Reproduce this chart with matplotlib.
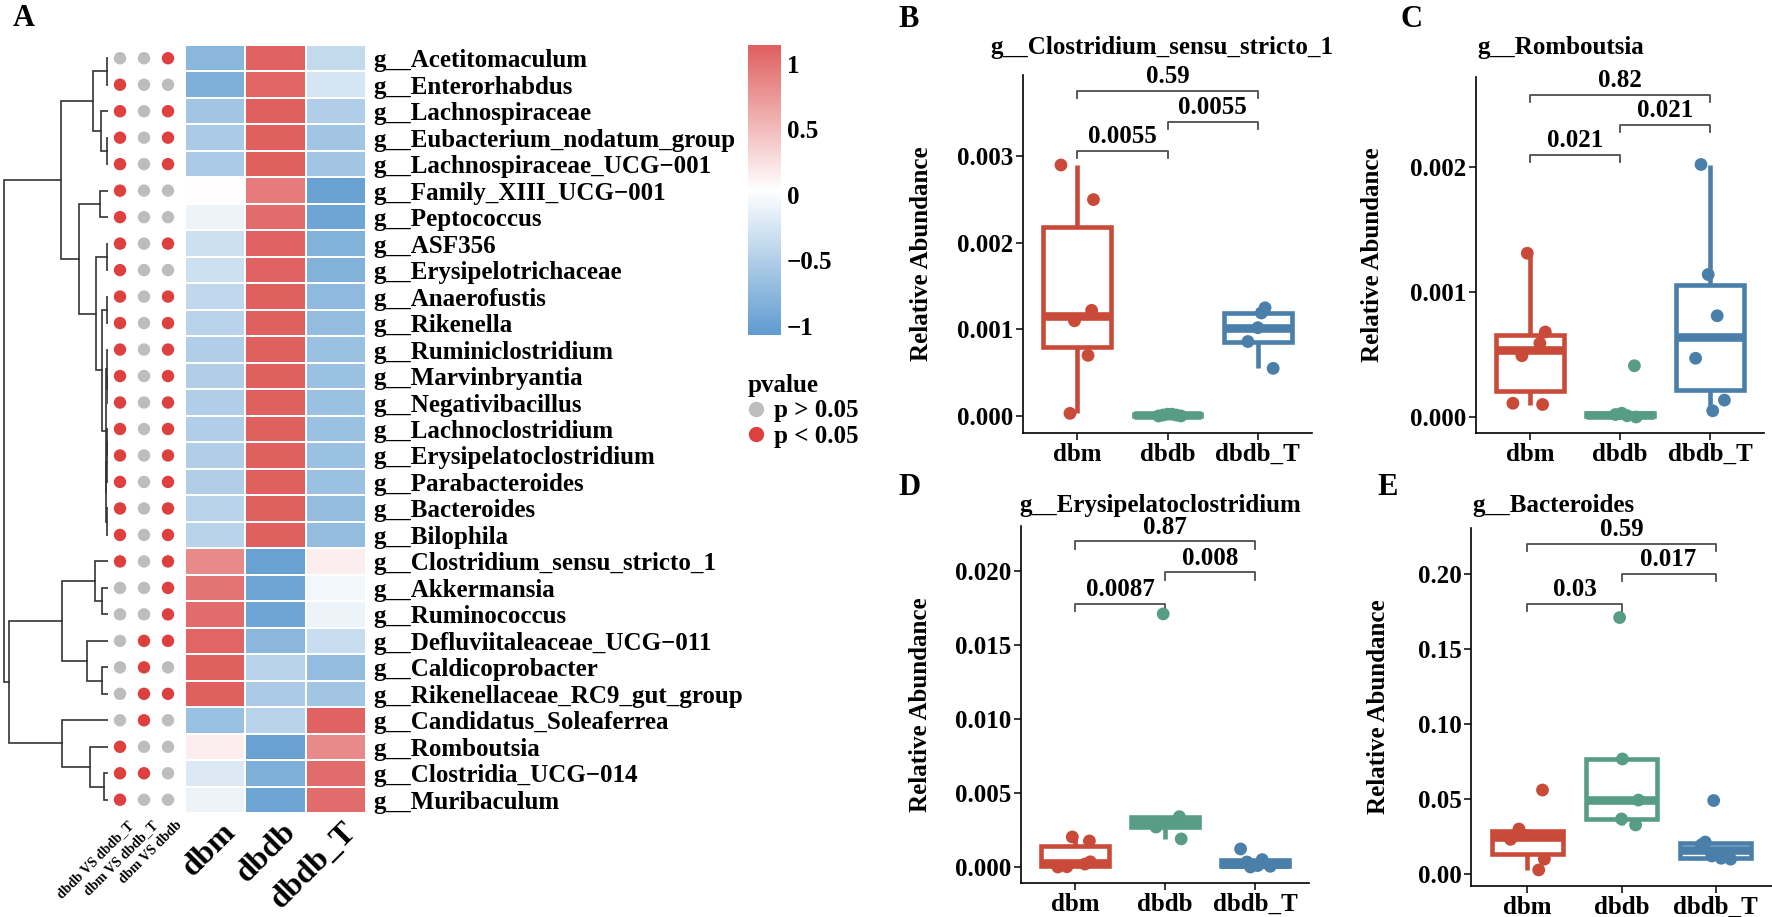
import numpy as np
import matplotlib
matplotlib.use("Agg")
import matplotlib.pyplot as plt
from matplotlib.colors import LinearSegmentedColormap, Normalize
from matplotlib.lines import Line2D

plt.rcParams['font.family'] = ['Liberation Serif', 'DejaVu Serif']
plt.rcParams['font.weight'] = 'bold'
plt.rcParams['axes.labelweight'] = 'bold'

W, H = 1772, 917

# %% data - heatmap (row z-scores)
genera = ["g__Acetitomaculum", "g__Enterorhabdus", "g__Lachnospiraceae",
          "g__Eubacterium_nodatum_group", "g__Lachnospiraceae_UCG\u2212001",
          "g__Family_XIII_UCG\u2212001", "g__Peptococcus", "g__ASF356",
          "g__Erysipelotrichaceae", "g__Anaerofustis", "g__Rikenella",
          "g__Ruminiclostridium", "g__Marvinbryantia", "g__Negativibacillus",
          "g__Lachnoclostridium", "g__Erysipelatoclostridium", "g__Parabacteroides",
          "g__Bacteroides", "g__Bilophila", "g__Clostridium_sensu_stricto_1",
          "g__Akkermansia", "g__Ruminococcus", "g__Defluviitaleaceae_UCG\u2212011",
          "g__Caldicoprobacter", "g__Rikenellaceae_RC9_gut_group",
          "g__Candidatus_Soleaferrea", "g__Romboutsia", "g__Clostridia_UCG\u2212014",
          "g__Muribaculum"]
groups = ["dbm", "dbdb", "dbdb_T"]
z_dbm = [-0.75, -0.85, -0.60, -0.55, -0.55, 0.05, -0.10, -0.30, -0.30, -0.40,
         -0.45, -0.50, -0.50, -0.50, -0.50, -0.50, -0.50, -0.45, -0.45,
         0.85, 1.00, 1.05, 1.10, 1.15, 1.15, -0.65, 0.15, -0.20, -0.10]
z_dbdb = [1.12, 1.10, 1.15, 1.15, 1.15, 0.95, 1.05, 1.12, 1.12, 1.14,
          1.15, 1.15, 1.15, 1.15, 1.15, 1.15, 1.15, 1.15, 1.15,
          -1.00, -0.95, -0.95, -0.75, -0.45, -0.55, -0.45, -1.00, -0.85, -0.95]
z_dbdbT = [-0.37, -0.25, -0.50, -0.60, -0.60, -1.00, -0.95, -0.82, -0.82, -0.74,
           -0.70, -0.65, -0.65, -0.65, -0.65, -0.65, -0.65, -0.70, -0.70,
           0.15, -0.05, -0.10, -0.35, -0.70, -0.60, 1.12, 0.85, 1.05, 1.05]

# significance (1 = p < 0.05)
comparisons = ["dbdb VS dbdb_T", "dbm VS dbdb_T", "dbm VS dbdb"]
sig_dbdb_T = [0, 1, 1, 1, 1, 1, 1, 1, 1, 1, 1, 1, 1, 1, 1, 1, 1, 1, 1, 1,
              0, 0, 0, 0, 0, 0, 1, 1, 1]
sig_dbm_T = [0, 0, 0, 0, 0, 0, 0, 0, 0, 0, 0, 0, 0, 0, 0, 0, 0, 0, 0, 0,
             0, 0, 1, 1, 1, 1, 0, 1, 0]
sig_dbm_dbdb = [1, 0, 1, 1, 1, 0, 0, 1, 0, 1, 1, 1, 1, 1, 1, 1, 1, 1, 1, 1,
                1, 1, 1, 0, 1, 0, 0, 0, 0]

# row dendrogram: (child a, child b, height); leaves 0..28, merges numbered from 29
merges = [(0, 1, 1.0), (3, 4, 0.3), (2, 30, 6.3), (29, 31, 15.0),
          (5, 6, 8.0), (7, 8, 0.4), (9, 10, 0.4), (12, 13, 0.2),
          (11, 36, 0.8), (14, 15, 0.3), (38, 16, 0.6), (17, 18, 0.5),
          (39, 40, 1.5), (37, 41, 2.2), (35, 42, 5.3), (34, 43, 11.3),
          (33, 44, 28.7), (32, 45, 47.0), (20, 21, 5.3), (19, 47, 12.7),
          (23, 24, 6.0), (22, 49, 21.0), (48, 50, 45.3), (27, 28, 3.7),
          (26, 52, 18.0), (25, 53, 46.0), (51, 54, 98.7), (46, 55, 104.3)]

# %% data - boxplots (values and jitter)
b_vals = [[0.0029, 0.0025, 0.00122, 0.0011, 0.0007, 0.00003],
          [0.00001, 0.00002, 0.0, 0.00001, 0.0, 0.00002],
          [0.00125, 0.00119, 0.00102, 0.00086, 0.00055]]
b_jit = [[-0.18, 0.18, 0.16, -0.03, 0.12, -0.08],
         [-0.05, 0.0, 0.15, 0.10, -0.10, 0.05],
         [0.08, 0.04, 0.0, -0.11, 0.17]]
c_vals = [[0.00131, 0.00068, 0.00059, 0.00049, 0.00011, 0.0001],
          [0.00003, 0.0, 0.00002, 0.00041, 0.00001],
          [0.00202, 0.00114, 0.00081, 0.00047, 0.000135, 0.00005]]
c_jit = [[-0.03, 0.17, 0.11, -0.09, -0.19, 0.14],
         [0.02, 0.18, -0.05, 0.16, 0.08],
         [-0.10, -0.02, 0.08, -0.16, 0.16, 0.03]]
d_vals = [[0.00203, 0.00176, 0.00035, 0.0002, 0.00002, 0.0],
          [0.0171, 0.0034, 0.0030, 0.0027, 0.0019],
          [0.00122, 0.0005, 0.00034, 0.0001, 0.00005, 0.0]]
d_jit = [[-0.03, 0.16, 0.17, 0.11, -0.09, -0.19],
         [-0.02, 0.16, 0.01, -0.10, 0.18],
         [-0.16, 0.08, -0.09, 0.03, 0.17, -0.05]]
e_vals = [[0.056, 0.030, 0.026, 0.0231, 0.0099, 0.0027],
          [0.171, 0.0767, 0.0493, 0.0367, 0.0327],
          [0.049, 0.0213, 0.0195, 0.012, 0.0105, 0.0099]]
e_jit = [[0.16, -0.09, -0.05, -0.18, 0.18, 0.12],
         [-0.02, 0.01, 0.18, 0.0, 0.15],
         [-0.02, -0.11, -0.15, -0.04, 0.06, 0.16]]

pairs = [(1, 2), (2, 3), (1, 3)]
b_sig_y, b_sig_lab = [0.00306, 0.0034, 0.00376], ["0.0055", "0.0055", "0.59"]
c_sig_y, c_sig_lab = [0.0021, 0.00234, 0.00258], ["0.021", "0.021", "0.82"]
d_sig_y, d_sig_lab = [0.0178, 0.0199, 0.0220], ["0.0087", "0.008", "0.87"]
e_sig_y, e_sig_lab = [0.18, 0.20, 0.22], ["0.03", "0.017", "0.59"]

box_cols = ["#C94A38", "#579D86", "#4A7FAA"]


def px_axes(fig, x0, y0, x1, y1):
    return fig.add_axes([x0 / W, 1 - y1 / H, (x1 - x0) / W, (y1 - y0) / H])


fig = plt.figure(figsize=(W / 100, H / 100), dpi=100)

# %% A - heatmap
n = len(genera)
mat = np.array([z_dbm, z_dbdb, z_dbdbT]).T
cmap = LinearSegmentedColormap.from_list('hm', ['#5F9BD0', '#FFFFFF', '#E05F5F'])
norm = Normalize(vmin=-1.07, vmax=1.145)

ax_hm = px_axes(fig, 185, 45, 366, 813)
mesh = ax_hm.pcolormesh(np.arange(4), np.arange(n + 1), mat, cmap=cmap, norm=norm,
                        edgecolors='white', linewidth=1.2)
ax_hm.set_xlim(0, 3)
ax_hm.set_ylim(n, 0)
ax_hm.yaxis.tick_right()
ax_hm.set_yticks(np.arange(n) + 0.5)
ax_hm.set_yticklabels(genera, fontsize=18)
ax_hm.set_xticks(np.arange(3) + 0.6)
ax_hm.set_xticklabels(groups, fontsize=23, rotation=45, ha='right', rotation_mode='anchor')
ax_hm.tick_params(length=0, pad=5)
ax_hm.tick_params(axis='x', pad=3)
for s in ax_hm.spines.values():
    s.set_visible(False)

# significance dots
ax_dot = px_axes(fig, 108, 45, 180, 813)
for j, sig in enumerate([sig_dbdb_T, sig_dbm_T, sig_dbm_dbdb]):
    sig = np.array(sig)
    cols = np.where(sig == 1, '#DE3F3F', '#BDBDBD')
    ax_dot.scatter(np.full(n, j), np.arange(n) + 0.5, s=80, c=cols, edgecolors='none')
ax_dot.set_xlim(-0.5, 2.5)
ax_dot.set_ylim(n, 0)
ax_dot.set_yticks([])
ax_dot.set_xticks(np.arange(3) + 0.3)
ax_dot.set_xticklabels(comparisons, fontsize=10, rotation=45, ha='right', rotation_mode='anchor')
ax_dot.tick_params(length=0, pad=4)
for s in ax_dot.spines.values():
    s.set_visible(False)

# dendrogram
ax_den = px_axes(fig, 2, 45, 108, 813)
ypos = {i: i + 0.5 for i in range(n)}
hpos = {i: 0.0 for i in range(n)}
for k, (a, b, h) in enumerate(merges):
    cid = n + k
    ax_den.plot([hpos[a], h, h, hpos[b]], [ypos[a], ypos[a], ypos[b], ypos[b]],
                color='#333333', lw=1.2, solid_joinstyle='miter')
    ypos[cid] = (ypos[a] + ypos[b]) / 2
    hpos[cid] = h
ax_den.set_xlim(105.8, -0.2)
ax_den.set_ylim(n, 0)
ax_den.axis('off')

# colour bar
cax = px_axes(fig, 748, 45, 781, 335)
cb = fig.colorbar(mesh, cax=cax, ticks=[-1, -0.5, 0, 0.5, 1])
cb.outline.set_visible(False)
cb.ax.set_yticklabels(['\u22121', '\u22120.5', '0', '0.5', '1'])
cb.ax.tick_params(length=0, labelsize=18, pad=4)

handles = [Line2D([], [], marker='o', ls='none', color='#BDBDBD', markersize=10),
           Line2D([], [], marker='o', ls='none', color='#DE3F3F', markersize=10)]
leg = fig.legend(handles, ['p > 0.05', 'p < 0.05'], title='pvalue', loc='upper left',
                 bbox_to_anchor=(738 / W, 1 - 364 / H), frameon=False, fontsize=18,
                 title_fontsize=18, handletextpad=0.45, labelspacing=0.1,
                 borderaxespad=0, handlelength=0.6, alignment='left')
leg.get_title().set_fontweight('bold')


# %% B-E boxplots
def box_panel(rect, vals, jit, ylim, yticks, fmt, sig_y, sig_lab, ylab_x):
    ax = px_axes(fig, *rect)
    bp = ax.boxplot(vals, positions=[1, 2, 3], widths=0.75, whis=1.5, showfliers=False,
                    showcaps=False, patch_artist=True)
    for i, c in enumerate(box_cols):
        bp['boxes'][i].set(facecolor='white', edgecolor=c, linewidth=3.3, joinstyle='miter')
        for w in bp['whiskers'][2 * i:2 * i + 2]:
            w.set(color=c, linewidth=3.3, solid_capstyle='butt')
        bp['medians'][i].set(color=c, linewidth=6.2, solid_capstyle='butt')
        ax.scatter(np.array(jit[i]) + i + 1, vals[i], s=85, color=c, edgecolors='none', zorder=4)
    ax.set_xlim(0.4, 3.6)
    ax.set_ylim(*ylim)
    ax.set_yticks(yticks)
    ax.set_yticklabels([fmt % t for t in yticks])
    ax.set_xticks([1, 2, 3])
    ax.set_xticklabels(groups)
    ax.tick_params(labelsize=18, length=5, width=1.1, pad=2)
    for s in ['top', 'right']:
        ax.spines[s].set_visible(False)
    for s in ['left', 'bottom']:
        ax.spines[s].set_linewidth(1.2)
    tick = 0.02 * (ylim[1] - ylim[0])
    for (x1, x2), y, lab in zip(pairs, sig_y, sig_lab):
        ax.plot([x1, x1, x2, x2], [y - tick, y, y, y - tick], color='#4D4D4D', lw=1.3)
        ax.text((x1 + x2) / 2, y + 0.4 * tick, lab, ha='center', va='bottom', fontsize=18)
    ax.set_ylabel('Relative Abundance', fontsize=18)
    ax.yaxis.set_label_coords(ylab_x, 0.5)
    return ax


box_panel((1023, 75, 1312, 433), b_vals, b_jit, (-0.000197, 0.00394),
          [0, 0.001, 0.002, 0.003], '%.3f', b_sig_y, b_sig_lab, -0.31)
box_panel((1476, 77, 1764, 433), c_vals, c_jit, (-0.000128, 0.00272),
          [0, 0.001, 0.002], '%.3f', c_sig_y, c_sig_lab, -0.32)
box_panel((1021, 526, 1309, 883), d_vals, d_jit, (-0.00108, 0.02304),
          [0, 0.005, 0.010, 0.015, 0.020], '%.3f', d_sig_y, d_sig_lab, -0.31)
box_panel((1471, 528, 1772, 886), e_vals, e_jit, (-0.008, 0.2307),
          [0, 0.05, 0.10, 0.15, 0.20], '%.2f', e_sig_y, e_sig_lab, -0.27)

# titles and panel letters
fig.text(1162 / W, 1 - 54 / H, 'g__Clostridium_sensu_stricto_1', ha='center', va='baseline', fontsize=18)
fig.text(1477 / W, 1 - 54 / H, 'g__Romboutsia', ha='left', va='baseline', fontsize=18)
fig.text(1019 / W, 1 - 512 / H, 'g__Erysipelatoclostridium', ha='left', va='baseline', fontsize=18)
fig.text(1472 / W, 1 - 512 / H, 'g__Bacteroides', ha='left', va='baseline', fontsize=18)
for lab, x, y in [('A', 13, 26), ('B', 898, 27), ('C', 1400, 27), ('D', 898, 495), ('E', 1377, 495)]:
    fig.text(x / W, 1 - y / H, lab, ha='left', va='baseline', fontsize=22)

fig.savefig('out.png', dpi=100)
